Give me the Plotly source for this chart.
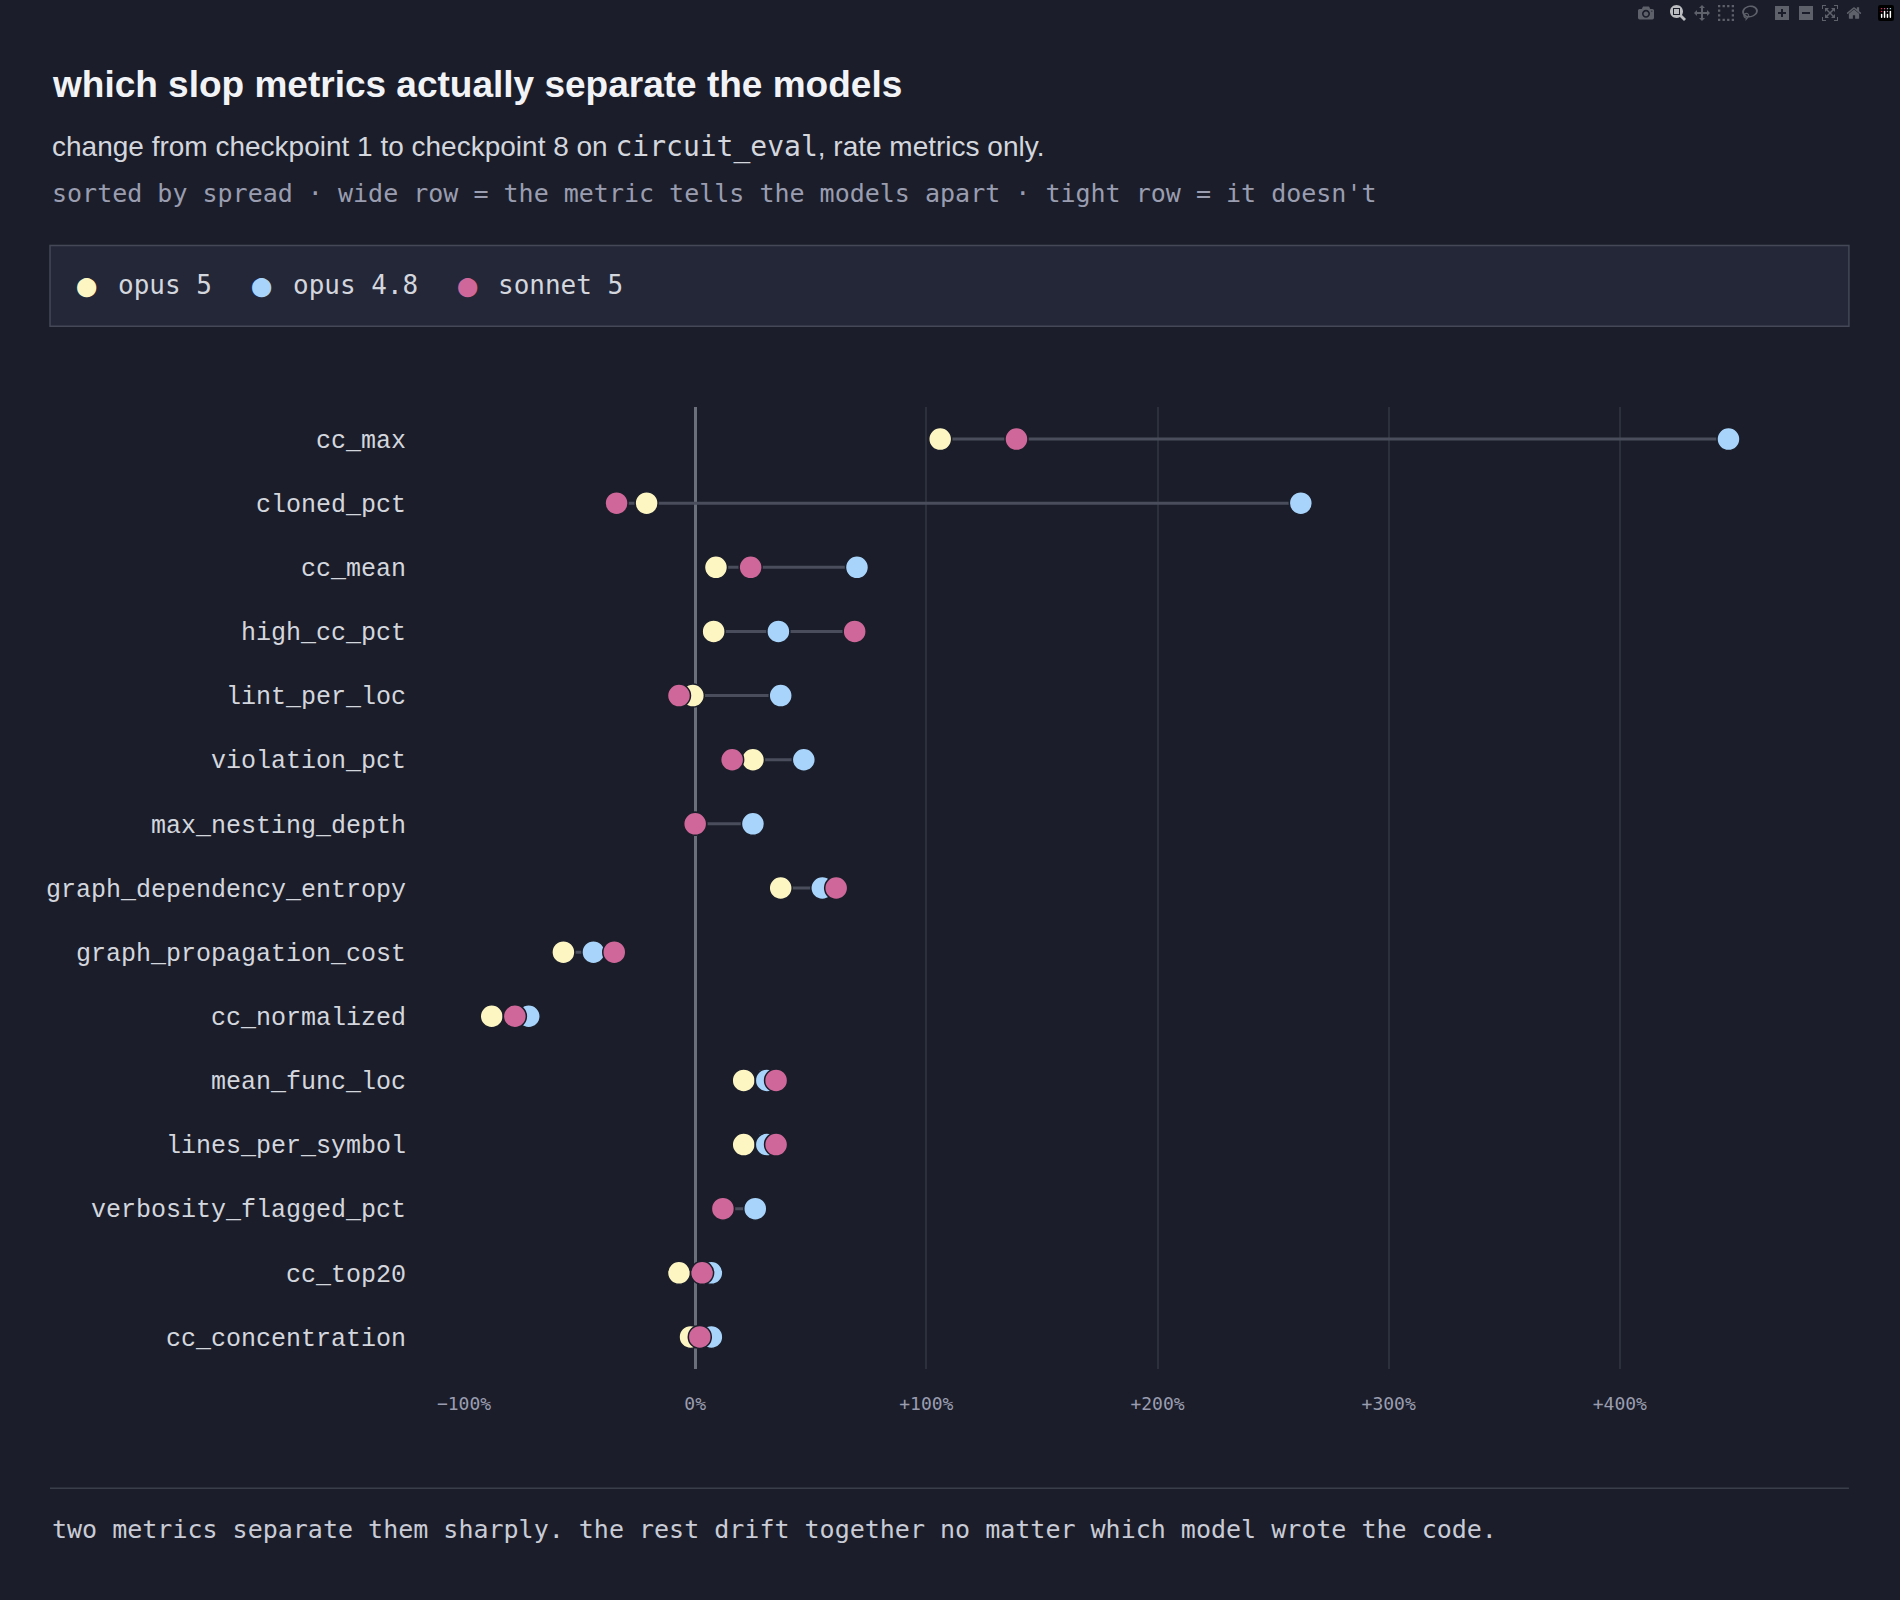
import plotly.graph_objects as go

metrics = ["cc_max", "cloned_pct", "cc_mean", "high_cc_pct", "lint_per_loc", "violation_pct",
           "max_nesting_depth", "graph_dependency_entropy", "graph_propagation_cost", "cc_normalized",
           "mean_func_loc", "lines_per_symbol", "verbosity_flagged_pct", "cc_top20", "cc_concentration"]
opus5 = [106, -21, 9, 8, -1, 25, 0, 37, -57, -88, 21, 21, 12, -7, -2]
opus48 = [447, 262, 70, 36, 37, 47, 25, 55, -44, -72, 31, 31, 26, 7, 7]
sonnet5 = [139, -34, 24, 69, -7, 16, 0, 61, -35, -78, 35, 35, 12, 3, 2]
tick_vals = [-100, 0, 100, 200, 300, 400]
tick_text = ["\u2212100%", "0%", "+100%", "+200%", "+300%", "+400%"]
series = [("opus 5", opus5, "#fdf6c3"), ("opus 4.8", opus48, "#a8d4fb"), ("sonnet 5", sonnet5, "#d0679a")]

BG = "#1b1e2a"
MONO = "DejaVu Sans Mono"
SANS = "Liberation Sans"
L, W = 464, 1387


def px(x):
    return (x - L) / W


fig = go.Figure()

# spread line per row
for m, a, b, c in zip(metrics, opus5, opus48, sonnet5):
    fig.add_trace(go.Scatter(x=[min(a, b, c), max(a, b, c)], y=[m, m], mode="lines",
                             line=dict(color="#4a4e5c", width=3), showlegend=False, hoverinfo="skip"))

for name, vals, col in series:
    fig.add_trace(go.Scatter(x=vals, y=metrics, mode="markers", name=name, showlegend=False,
                             marker=dict(size=23, color=col, line=dict(color=BG, width=1.5))))

fig.update_layout(
    width=1900, height=1600,
    paper_bgcolor=BG, plot_bgcolor=BG,
    margin=dict(l=L, r=49, t=407, b=231),
    font=dict(family=MONO, color="#c9ccd6"),
    xaxis=dict(range=[-100, 500], tickvals=tick_vals, ticktext=tick_text, showgrid=True,
               gridcolor="#2c303d", gridwidth=1.5, zeroline=True, zerolinecolor="#6b6f7c",
               zerolinewidth=2.5, tickfont=dict(family=MONO, size=18, color="#9a9db0"),
               showline=False, ticks="", ticklabelstandoff=22),
    yaxis=dict(categoryorder="array", categoryarray=metrics, range=[14.5, -0.5],
               showgrid=False, zeroline=False, ticks="",
               tickfont=dict(family="Liberation Mono", size=25, color="#d4d6de"),
               ticklabelstandoff=57),
)

# legend box
fig.add_shape(type="rect", xref="paper", yref="paper", x0=px(50), x1=0.9985, y0=1.084, y1=1.168,
              fillcolor="#232738", line=dict(color="#444857", width=1.5), layer="below")
legend_x = [(87, 116), (262, 291), (468, 496)]
for (name, _, col), (dx, tx) in zip(series, legend_x):
    fig.add_annotation(text="\u25cf", xref="paper", yref="paper", x=px(dx), y=1.127, xanchor="center",
                       yanchor="middle", showarrow=False, font=dict(family=MONO, size=32, color=col))
    fig.add_annotation(text=name, xref="paper", yref="paper", x=px(tx), y=1.127, xanchor="left",
                       yanchor="middle", showarrow=False, font=dict(family=MONO, size=26, color="#d4d6de"))

# footer rule
fig.add_shape(type="line", xref="paper", yref="paper", x0=px(50), x1=0.9985, y0=-0.124, y1=-0.124,
              line=dict(color="#3a3e4b", width=1.5))

fig.add_annotation(text="<b>which slop metrics actually separate the models</b>", xref="paper", yref="paper",
                   x=px(50), y=1.335, xanchor="left", yanchor="middle", showarrow=False,
                   font=dict(family=SANS, size=37, color="#f2f3f7"))
fig.add_annotation(text="change from checkpoint 1 to checkpoint 8 on "
                        "<span style='font-family:DejaVu Sans Mono'>circuit_eval</span>, rate metrics only.",
                   xref="paper", yref="paper", x=px(50), y=1.270, xanchor="left", yanchor="middle",
                   showarrow=False, font=dict(family=SANS, size=28, color="#d4d6de"))
fig.add_annotation(text="sorted by spread \u00b7 wide row = the metric tells the models apart \u00b7 tight row = it doesn't",
                   xref="paper", yref="paper", x=px(50), y=1.222, xanchor="left", yanchor="middle",
                   showarrow=False, font=dict(family=MONO, size=25, color="#9a9db0"))
fig.add_annotation(text="two metrics separate them sharply. the rest drift together no matter which model wrote the code.",
                   xref="paper", yref="paper", x=px(50), y=-0.167, xanchor="left", yanchor="middle",
                   showarrow=False, font=dict(family=MONO, size=25, color="#c9ccd6"))

fig.write_html("out.html",
               post_script="document.body.style.margin='0';document.body.style.background='#1b1e2a';")
